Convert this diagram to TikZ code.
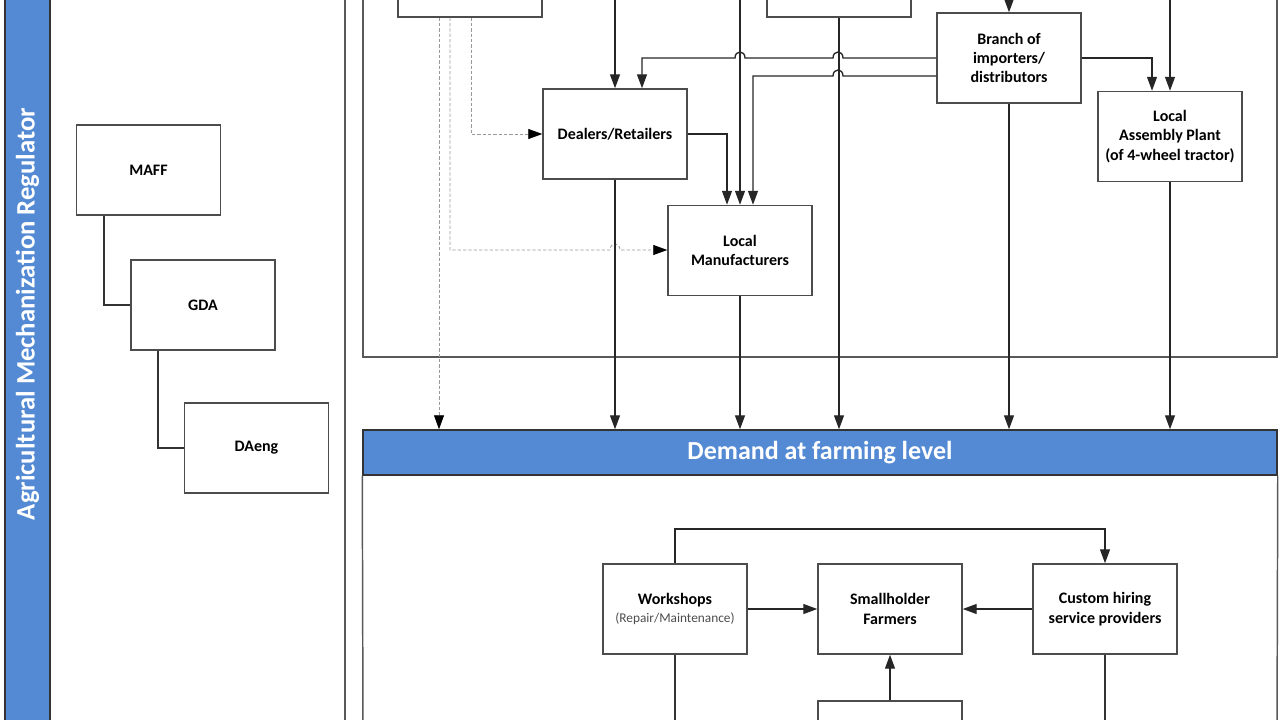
\documentclass[tikz,border=0pt]{standalone}
\usepackage{fontspec}
\setmainfont{Carlito}
\usetikzlibrary{arrows.meta}
\definecolor{barblue}{RGB}{84,138,212}
\tikzset{
	blockbox/.style = {
		shape=rectangle,
		draw=black!70,
		line width=1.1pt,
		minimum width=108pt,
		minimum height=67.5pt,
		inner sep=1pt,
		align=center,
		font=\bfseries\fontsize{12}{14.5}\selectfont
	},
	bandbox/.style = {
		shape=rectangle,
		draw=black!80,
		line width=1.1pt,
		fill=barblue,
		text=white,
		font=\bfseries\fontsize{19.5}{22}\selectfont
	},
	arr/.style = {
		draw=black!85,
		line width=1pt,
		-{Triangle[length=10.5pt,width=7.5pt]}
	},
	link/.style = {
		draw=black!80,
		line width=1pt
	},
	dashlink/.style = {
		draw=black!40,
		line width=0.6pt,
		dash pattern=on 2.5pt off 1.5pt,
		-{Triangle[length=10.5pt,width=7.5pt,color=black]}
	},
	frame/.style = {
		draw=black!65,
		line width=1.1pt
	}
}

\begin{document}
\begin{tikzpicture}[x=0.75pt,y=-0.75pt]
		\useasboundingbox (0,0) rectangle (1280,720);
		\clip (0,0) rectangle (1280,720);
		% regulator panel
		\filldraw[draw=black!80, line width=1.1pt, fill=barblue] (5,-10) rectangle (50,730);
		\node[rotate=90, text=white, font=\bfseries\fontsize{20}{22}\selectfont] (regtitle) at (27.5,314) {Agricultural Mechanization Regulator};
		\draw[frame] (345,-10) -- (345,730);
		\node[blockbox] (maff) at (148.5,170) {MAFF};
		\node[blockbox] (gda) at (203,305) {GDA};
		\node[blockbox] (daeng) at (256.5,448) {DAeng};
		\draw[link] (maff.south -| 104,0) |- (gda.west);
		\draw[link] (gda.south -| 158,0) |- (daeng.west);

		% supply side
		\draw[frame] (363,-10) |- (1277,357) -- (1277,-10);
		\node[blockbox] (upleft) at (470,-28) {};
		\node[blockbox] (upmid) at (839,-28) {};
		\node[blockbox] (dealers) at (615,134) {Dealers/Retailers};
		\node[blockbox] (locman) at (740,250.5) {Local\\Manufacturers};
		\node[blockbox] (branch) at (1009,58) {Branch of\\importers/\\distributors};
		\node[blockbox] (lap) at (1170,136.5) {Local\\Assembly Plant\\(of 4-wheel tractor)};
		\coordinate (feeda) at (615,-10);
		\coordinate (feedb) at (740,-10);
		\coordinate (feedc) at (1009,-10);
		\coordinate (feedd) at (1170,-10);

		% demand side
		\node[bandbox, minimum width=685.5pt, minimum height=33.75pt] (head) at (820,452.5) {Demand at farming level};
		\draw[frame] (head.south west) -- (363,730);
		\draw[frame] (head.south east) -- (1277,730);
		\node[blockbox] (workshops) at (675,609) {Workshops\\[-1pt]{\mdseries\fontsize{10}{11}\selectfont\color{black!70}(Repair/Maintenance)}};
		\node[blockbox] (farmers) at (890,609) {Smallholder\\Farmers};
		\node[blockbox] (custom) at (1105,609) {Custom hiring\\service providers};
		\node[blockbox] (below) at (890,746) {};
		\coordinate (downa) at (675,730);
		\coordinate (downb) at (1105,730);

		% flows into dealers and manufacturers
		\draw[arr] (feeda) -- (dealers.north);
		\draw[arr] (branch.west) -- (843,58) .. controls (843,50) and (833,50) .. (833,58)
			-- (745,58) .. controls (745,50) and (735,50) .. (735,58)
			-- (642,58) -- (dealers.north -| 642,0);
		\draw[arr] (branch.west |- 0,76) -- (843,76) .. controls (843,68) and (833,68) .. (833,76)
			-- (753,76) -- (locman.north -| 753,0);
		\draw[arr] (feedb) -- (locman.north);
		\draw[arr] (dealers.east) -| (locman.north -| 727,0);
		\draw[arr] (feedc) -- (branch.north);
		\draw[arr] (branch.east) -| (lap.north -| 1152,0);
		\draw[arr] (feedd) -- (lap.north);

		% dashed flows
		\draw[dashlink] (upleft.south -| 471,0) |- (dealers.west);
		\draw[dashlink] (upleft.south -| 450,0) -- (450,250) -- (610,250)
			.. controls (610,242) and (620,242) .. (620,250) -- (locman.west |- 0,250);
		\draw[dashlink] (upleft.south -| 439,0) -- (head.north -| 439,0);

		% flows to the farming level
		\draw[arr] (dealers.south) -- (dealers.south |- head.north);
		\draw[arr] (locman.south) -- (locman.south |- head.north);
		\draw[arr] (upmid.south) -- (upmid.south |- head.north);
		\draw[arr] (branch.south) -- (branch.south |- head.north);
		\draw[arr] (lap.south) -- (lap.south |- head.north);

		% farming level
		\draw[arr] (workshops.east) -- (farmers.west);
		\draw[arr] (custom.west) -- (farmers.east);
		\draw[arr] (below.north) -- (farmers.south);
		\draw[arr] (workshops.north) -- (675,529) -| (custom.north);
		\draw[link] (workshops.south) -- (downa);
		\draw[link] (custom.south) -- (downb);
		\end{tikzpicture}
\end{document}
